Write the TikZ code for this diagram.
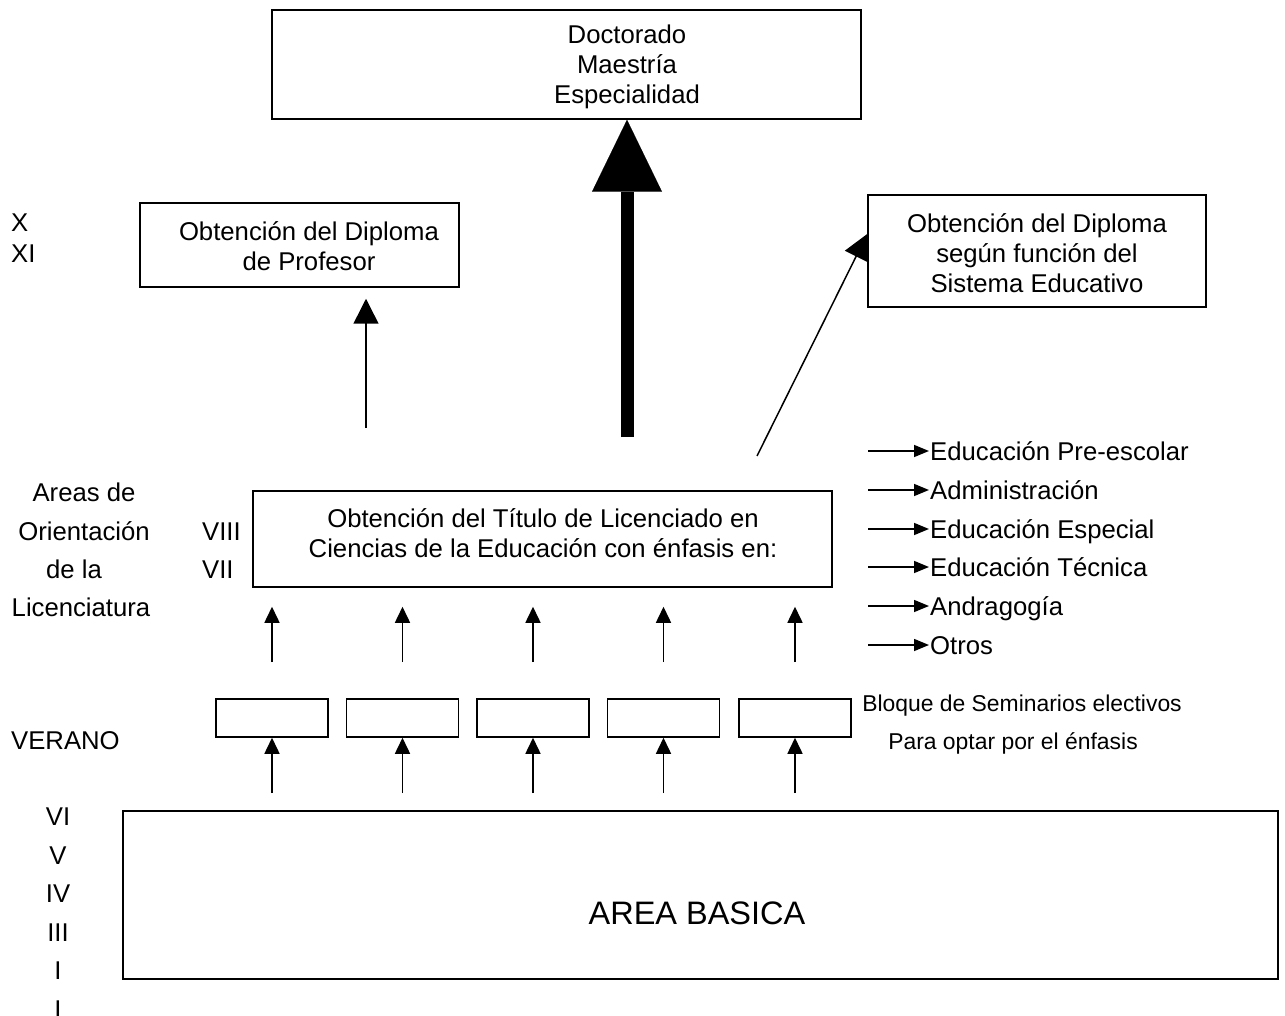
\documentclass[tikz,border=0pt]{standalone}
\usepackage{fontspec}
\setmainfont{Liberation Sans}
\usetikzlibrary{arrows.meta,calc,backgrounds}
\newcommand\fmain{\fontsize{25.7pt}{30pt}\selectfont}
\newcommand\fsmall{\fontsize{22.9pt}{27pt}\selectfont}
\newcommand\fbig{\fontsize{32.5pt}{38pt}\selectfont}
\begin{document}
\begin{tikzpicture}[x=1pt,y=-1pt,
  box/.style={draw,line width=1.5pt,fill=white,inner sep=0pt},
  txt/.style={font=\fmain,align=center,inner sep=0pt},
  lbl/.style={font=\fmain,inner sep=0pt,text height=18.5pt,text depth=0pt},
  slbl/.style={font=\fsmall,inner sep=0pt,text height=16.5pt,text depth=0pt},
  conn/.style={line width=1.5pt},
  tipL/.style={-{Triangle[length=25pt,width=25pt]}},
  tipS/.style={-{Triangle[length=16pt,width=15pt]}},
  tipR/.style={-{Triangle[length=15pt,width=12pt]}},
]
\useasboundingbox (0,0) rectangle (1285,1016);

% boxes
\node[box,minimum width=589pt,minimum height=109pt] (top) at (566.5,64.5) {};
\node[txt] (toptxt) at (627,67) {Doctorado\\Maestría\\Especialidad};

\node[box,minimum width=319pt,minimum height=84pt] (pbox) at (299.5,245) {};
\node[txt] (ptxt) at (309,246) {Obtención del Diploma\\de Profesor};

\node[box,minimum width=338pt,minimum height=112pt] (rbox) at (1037,251) {};
\node[txt] (rtxt) at (1037,253) {Obtención del Diploma\\según función del\\Sistema Educativo};

\node[box,minimum width=579pt,minimum height=96pt] (lic) at (542.5,539) {};
\node[txt] (lictxt) at (543,533) {Obtención del Título de Licenciado en\\Ciencias de la Educación con énfasis en:};

\node[box,minimum width=1155pt,minimum height=168pt] (area) at (700.5,895) {};
\node[lbl,font=\fbig,text height=23.3pt] (areatxt) at (697,913) {AREA BASICA};

\foreach \i/\x in {1/272,2/402.5,3/533,4/663.5,5/795}{
  \node[box,minimum width=112pt,minimum height=38pt] (s\i) at (\x,718) {};
  \coordinate (u\i) at (\x,662);
  \coordinate (l\i) at (\x,793);
  \draw[conn,tipS,shorten >=19pt] (u\i) -- (u\i |- lic.south);
  \draw[conn,tipS] (l\i) -- (s\i.south);
}

% big arrow
\coordinate (bigb) at (627,437);
\draw[line width=13pt,-{Triangle[length=72pt,width=70pt,line width=0.1pt]}] (bigb) -- (bigb |- top.south);

% arrow to profesor
\coordinate (pa) at (366,428);
\draw[conn,tipL,shorten >=11pt] (pa) -- (pa |- pbox.south);

% diagonal arrow (head partly hidden by the box)
\coordinate (da) at (757,456);
\coordinate (dt) at ($(rbox.north west)!0.35!(rbox.south west)$);
\begin{scope}[on background layer]
  \draw[conn,tipL] (da) -- (dt);
\end{scope}

% right list
\foreach \i/\y/\t in {1/451/Educación Pre-escolar,2/490/Administración,3/529/Educación Especial,4/567/Educación Técnica,5/606/Andragogía,6/645/Otros}{
  \node[lbl,anchor=west,inner xsep=1pt] (e\i) at (929,\y) {\t};
  \coordinate (r\i) at (868,\y);
  \draw[conn,tipR] (r\i) -- (r\i -| e\i.west);
}

\node[slbl] (bl1) at (1022,703) {Bloque de Seminarios electivos};
\node[slbl] (bl2) at (1013,741) {Para optar por el énfasis};

% left labels
\node[lbl,anchor=west] (x10) at (11,222) {X};
\node[lbl,anchor=west] (x11) at (11,253) {XI};
\node[lbl] (al1) at (84,492) {Areas de};
\node[lbl] (al2) at (84,531) {Orientación};
\node[lbl] (al3) at (74,569) {de la};
\node[lbl] (al4) at (81,607) {Licenciatura};
\node[lbl,anchor=west] (r8) at (202,531) {VIII};
\node[lbl,anchor=west] (r7) at (202,569) {VII};
\node[lbl,anchor=west] (ver) at (11,740) {VERANO};
\foreach \n/\y/\t in {a/816/VI,b/855/V,c/893/IV,d/932/III,e/970/I,f/1009/I}{
  \node[lbl] (rn\n) at (58,\y) {\t};
}
\end{tikzpicture}
\end{document}
